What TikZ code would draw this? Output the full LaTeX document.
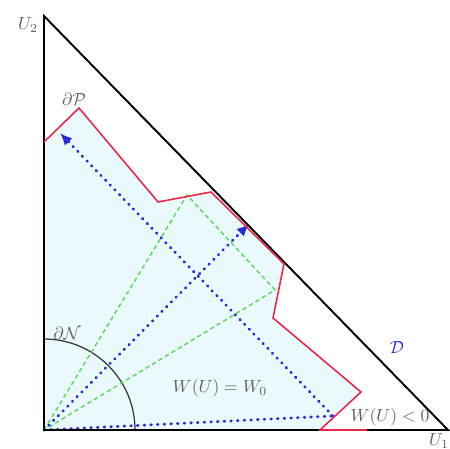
\documentclass[tikz,border=0pt]{standalone}
\usepackage{amsmath}
\usetikzlibrary{arrows.meta}

\definecolor{regionfill}{RGB}{234,250,252}
\definecolor{bred}{RGB}{232,40,72}
\definecolor{bblue}{RGB}{40,40,215}
\definecolor{bgreen}{RGB}{90,215,90}
\definecolor{lblgray}{RGB}{95,95,95}

\begin{document}
\begin{tikzpicture}[
    x=0.02cm, y=0.02cm,
    >={Latex[length=7pt,width=6pt]},
    axis/.style={draw=black, line width=1.1pt, line join=miter},
    boundary/.style={draw=bred, line width=0.9pt},
    traj/.style={draw=bblue, line width=1.6pt, line cap=round, dash pattern=on 0.4pt off 3.4pt},
    cone/.style={draw=bgreen, line width=0.8pt, dash pattern=on 2.5pt off 1.8pt},
    lbl/.style={text=lblgray, inner sep=1pt}
    ]

\useasboundingbox (-44,-19) rectangle (406,430);

% Corners of the triangle
\coordinate (O)  at (0,0);
\coordinate (U2) at (0,414);
\coordinate (U1) at (404,0);

% Vertices of the boundary dP
\coordinate (p1) at (0,288);
\coordinate (p2) at (35,322);
\coordinate (p3) at (114,228);
\coordinate (p4) at (167,238);
\coordinate (p5) at (240,166);
\coordinate (p6) at (229,112);
\coordinate (p7) at (317,38);
\coordinate (p8) at (276,0);
\coordinate (p9) at (323,0);

% Region
\fill[regionfill] (O) -- (p1) -- (p2) -- (p3) -- (p4) -- (p5) -- (p6) -- (p7) -- (p8) -- cycle;

% Arc dN
\draw[draw=black!80, line width=0.7pt] (91,0) arc (0:90:91);

% Green cone
\coordinate (g1) at (143,235);
\coordinate (g2) at (231,140);
\draw[cone] (O) -- (g1) -- (g2) -- cycle;

% Blue trajectories
\coordinate (b1) at (289,14);
\coordinate (b2) at (16,297);
\coordinate (b3) at (205,206);
\draw[traj] (O) -- (b1);
\draw[traj, ->] (b1) -- (b2);
\draw[traj, ->] (O) -- (b3);

% Triangle
\draw[axis] (U1) -- (O) -- (U2) -- cycle;

% Boundary dP
\draw[boundary] (p1) -- (p2) -- (p3) -- (p4) -- (p5) -- (p6) -- (p7) -- (p8) -- (p9);

% Labels
\node[lbl] (lu2) at (-16,405) {$U_2$};
\node[lbl] (lu1) at (395,-11) {$U_1$};
\node[lbl] (ldp) at (30,331) {$\partial\mathcal{P}$};
\node[lbl] (ldn) at (23,97) {$\partial\mathcal{N}$};
\node[text=bblue] (ld) at (353,82) {$\mathcal{D}$};
\node[lbl] (lw0) at (176,42) {$W(U)=W_0$};
\node[lbl] (lwn) at (346,13) {$W(U)<0$};

\end{tikzpicture}
\end{document}
